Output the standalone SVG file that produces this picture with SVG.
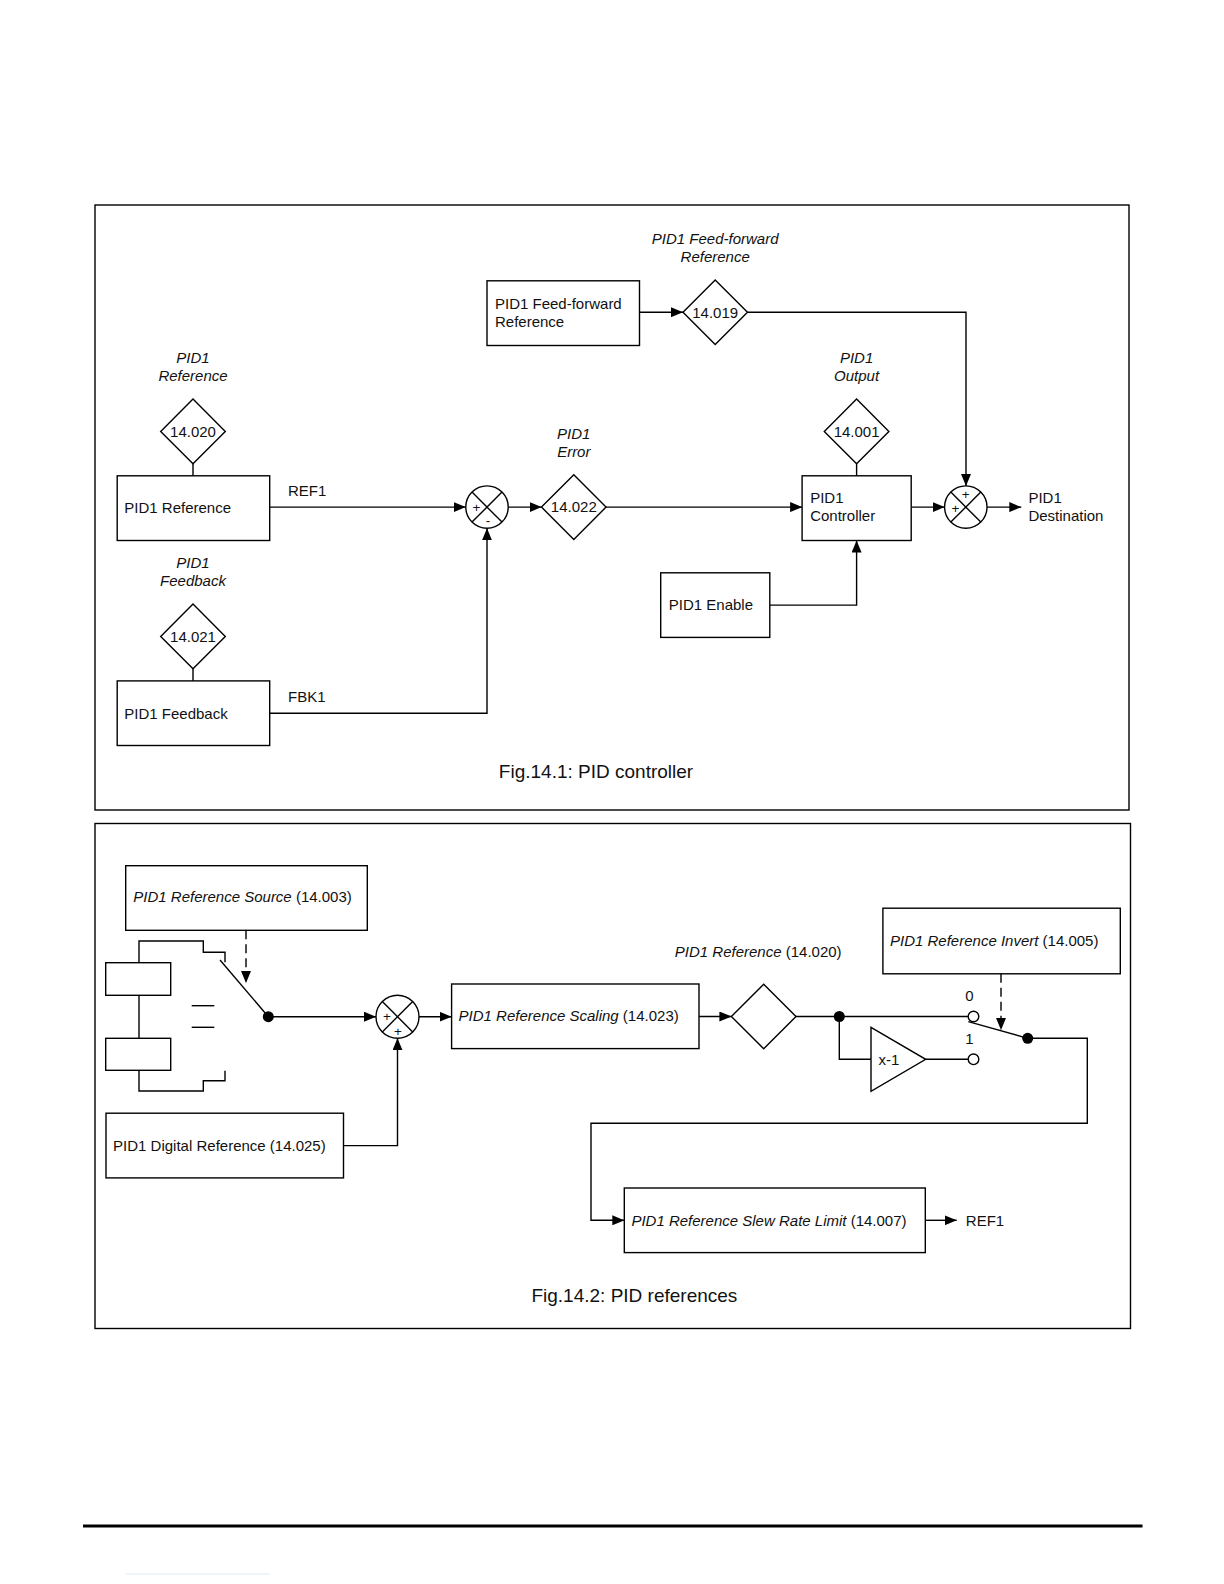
<svg xmlns="http://www.w3.org/2000/svg" width="1224" height="1584" viewBox="0 0 1224 1584">
<style>
.ln{fill:none;stroke:#000;stroke-width:1.4}
.bx{fill:#fff;stroke:#000;stroke-width:1.4}
.t{font-family:"Liberation Sans",Arial,sans-serif;font-size:15px;fill:#111}
.i{font-style:italic}
.c{text-anchor:middle}
.ttl{font-family:"Liberation Sans",Arial,sans-serif;font-size:19px;fill:#111;text-anchor:middle}
.sg{font-family:"Liberation Sans",Arial,sans-serif;font-size:13.5px;fill:#111;text-anchor:middle}
.dash{fill:none;stroke:#000;stroke-width:1.4;stroke-dasharray:9,5}
</style>
<defs>
<marker id="ar" viewBox="0 0 12 10" refX="12" refY="5" markerWidth="12" markerHeight="10" markerUnits="userSpaceOnUse" orient="auto">
<path d="M0,0 L12,5 L0,10 z" fill="#000"/>
</marker>
</defs>
<rect width="1224" height="1584" fill="#fff"/>

<!-- Frames -->
<rect x="95" y="205" width="1034" height="605" class="ln"/>
<rect x="95" y="823.5" width="1035.5" height="505" class="ln"/>

<!-- Figure 1 connectors -->
<g id="connectors1">
<line x1="639.5" y1="312.2" x2="683" y2="312.2" class="ln" marker-end="url(#ar)"/>
<polyline points="747.5,312.2 966,312.2 966,486" class="ln" marker-end="url(#ar)"/>
<line x1="193" y1="463.7" x2="193" y2="475.8" class="ln"/>
<line x1="269.7" y1="507.1" x2="465.7" y2="507.1" class="ln" marker-end="url(#ar)"/>
<line x1="193" y1="668.7" x2="193" y2="680.9" class="ln"/>
<polyline points="269.7,713.2 487,713.2 487,528.3" class="ln" marker-end="url(#ar)"/>
<line x1="508.1" y1="507.1" x2="541.5" y2="507.1" class="ln" marker-end="url(#ar)"/>
<line x1="606" y1="507.1" x2="802.1" y2="507.1" class="ln" marker-end="url(#ar)"/>
<line x1="856.6" y1="463.7" x2="856.6" y2="475.8" class="ln"/>
<polyline points="769.8,605.1 856.6,605.1 856.6,540.5" class="ln" marker-end="url(#ar)"/>
<line x1="911.2" y1="507.1" x2="944.6" y2="507.1" class="ln" marker-end="url(#ar)"/>
<line x1="987" y1="507.1" x2="1021.3" y2="507.1" class="ln" marker-end="url(#ar)"/>
</g>

<!-- Figure 1 nodes -->
<g id="ff-label">
<text x="715.2" y="243.5" class="t i c">PID1 Feed-forward</text>
<text x="715.2" y="261.6" class="t i c">Reference</text>
</g>
<g id="ff-box">
<rect x="487" y="280.8" width="152.5" height="64.7" class="bx"/>
<text x="495" y="308.5" class="t">PID1 Feed-forward</text>
<text x="495" y="326.5" class="t">Reference</text>
</g>
<g id="d14019">
<polygon points="715.2,280 747.5,312.2 715.2,344.5 683,312.2" class="bx"/>
<text x="715.2" y="317.5" class="t c">14.019</text>
</g>
<g id="ref-label">
<text x="193" y="363" class="t i c">PID1</text>
<text x="193" y="381" class="t i c">Reference</text>
</g>
<g id="d14020">
<polygon points="193,399 225.3,431.4 193,463.7 160.7,431.4" class="bx"/>
<text x="193" y="436.7" class="t c">14.020</text>
</g>
<g id="ref-box">
<rect x="117.2" y="475.8" width="152.5" height="64.7" class="bx"/>
<text x="124.3" y="513" class="t">PID1 Reference</text>
</g>
<text x="288" y="496" class="t">REF1</text>
<g id="fb-label">
<text x="193" y="568" class="t i c">PID1</text>
<text x="193" y="586" class="t i c">Feedback</text>
</g>
<g id="d14021">
<polygon points="193,604 225.3,636.4 193,668.7 160.7,636.4" class="bx"/>
<text x="193" y="641.7" class="t c">14.021</text>
</g>
<g id="fb-box">
<rect x="117.2" y="680.9" width="152.5" height="64.6" class="bx"/>
<text x="124.3" y="718.5" class="t">PID1 Feedback</text>
</g>
<text x="288" y="702" class="t">FBK1</text>
<g id="sum1">
<circle cx="487" cy="507.1" r="21.2" class="bx"/>
<line x1="472" y1="492.1" x2="502" y2="522.1" class="ln"/>
<line x1="502" y1="492.1" x2="472" y2="522.1" class="ln"/>
<text x="476.5" y="512" class="sg">+</text>
<text x="488" y="525" class="sg">-</text>
</g>
<g id="err-label">
<text x="573.8" y="438.5" class="t i c">PID1</text>
<text x="573.8" y="456.6" class="t i c">Error</text>
</g>
<g id="d14022">
<polygon points="573.8,474.8 606,507.1 573.8,539.4 541.5,507.1" class="bx"/>
<text x="573.8" y="512.4" class="t c">14.022</text>
</g>
<g id="out-label">
<text x="856.6" y="363" class="t i c">PID1</text>
<text x="856.6" y="381" class="t i c">Output</text>
</g>
<g id="d14001">
<polygon points="856.6,399 888.9,431.4 856.6,463.7 824.3,431.4" class="bx"/>
<text x="856.6" y="436.7" class="t c">14.001</text>
</g>
<g id="controller">
<rect x="802.1" y="475.8" width="109.1" height="64.7" class="bx"/>
<text x="810.2" y="503" class="t">PID1</text>
<text x="810.2" y="521.3" class="t">Controller</text>
</g>
<g id="enable">
<rect x="660.7" y="572.8" width="109.1" height="64.6" class="bx"/>
<text x="668.8" y="610.3" class="t">PID1 Enable</text>
</g>
<g id="sum2">
<circle cx="965.8" cy="507.1" r="21.2" class="bx"/>
<line x1="950.8" y1="492.1" x2="980.8" y2="522.1" class="ln"/>
<line x1="980.8" y1="492.1" x2="950.8" y2="522.1" class="ln"/>
<text x="965.8" y="499" class="sg">+</text>
<text x="955.5" y="513" class="sg">+</text>
</g>
<g id="dest">
<text x="1028.4" y="503" class="t">PID1</text>
<text x="1028.4" y="521.3" class="t">Destination</text>
</g>
<text x="596" y="777.5" class="ttl">Fig.14.1: PID controller</text>

<!-- Figure 2 connectors -->
<g id="connectors2">
<line x1="246" y1="930.3" x2="246" y2="983" class="dash" marker-end="url(#ar)"/>
<polyline points="139,962.7 139,941 203.3,941 203.3,952.3 225,952.3 225,962.3" class="ln"/>
<line x1="139" y1="995.3" x2="139" y2="1038.3" class="ln"/>
<polyline points="139,1070.3 139,1091 203.3,1091 203.3,1080.7 225,1080.7 225,1070.7" class="ln"/>
<line x1="191.7" y1="1005.7" x2="214.3" y2="1005.7" class="ln"/>
<line x1="191.7" y1="1027.3" x2="214.3" y2="1027.3" class="ln"/>
<line x1="220" y1="960" x2="268.3" y2="1016.7" class="ln"/>
<circle cx="268.3" cy="1016.7" r="5.5" fill="#000"/>
<line x1="268.3" y1="1016.7" x2="376" y2="1016.7" class="ln" marker-end="url(#ar)"/>
<polyline points="343.5,1145.6 397.5,1145.6 397.5,1038.2" class="ln" marker-end="url(#ar)"/>
<line x1="419" y1="1016.7" x2="451.6" y2="1016.7" class="ln" marker-end="url(#ar)"/>
<line x1="699" y1="1016.5" x2="731.4" y2="1016.5" class="ln" marker-end="url(#ar)"/>
<line x1="796" y1="1016.5" x2="968" y2="1016.5" class="ln"/>
<circle cx="839.3" cy="1016.5" r="5.5" fill="#000"/>
<polyline points="839.3,1016.5 839.3,1059.3 871,1059.3" class="ln"/>
<line x1="925.7" y1="1059.3" x2="968" y2="1059.3" class="ln"/>
<circle cx="973.5" cy="1016.5" r="5.3" fill="#fff" stroke="#000" stroke-width="1.4"/>
<circle cx="973.5" cy="1059.3" r="5.3" fill="#fff" stroke="#000" stroke-width="1.4"/>
<line x1="968.3" y1="1021.7" x2="1027.7" y2="1038.3" class="ln"/>
<circle cx="1027.7" cy="1038.3" r="5.5" fill="#000"/>
<line x1="1001" y1="973.8" x2="1001" y2="1030" class="dash" marker-end="url(#ar)"/>
<polyline points="1027.7,1038.3 1087.3,1038.3 1087.3,1123.3 591,1123.3 591,1220.3 624.3,1220.3" class="ln" marker-end="url(#ar)"/>
<line x1="925.3" y1="1220.3" x2="956.7" y2="1220.3" class="ln" marker-end="url(#ar)"/>
</g>

<!-- Figure 2 nodes -->
<g id="src-box">
<rect x="125.7" y="865.7" width="241.6" height="64.6" class="bx"/>
<text x="133.3" y="902" class="t"><tspan class="i">PID1 Reference Source</tspan> (14.003)</text>
</g>
<g id="sel-in1"><rect x="105.7" y="962.7" width="65" height="32.6" class="bx"/></g>
<g id="sel-in2"><rect x="105.7" y="1038.3" width="65" height="32" class="bx"/></g>
<g id="digital-box">
<rect x="106" y="1113.2" width="237.5" height="64.7" class="bx"/>
<text x="113.1" y="1151" class="t">PID1 Digital Reference (14.025)</text>
</g>
<g id="sum3">
<circle cx="397.5" cy="1016.7" r="21.5" class="bx"/>
<line x1="382.3" y1="1001.5" x2="412.7" y2="1031.9" class="ln"/>
<line x1="412.7" y1="1001.5" x2="382.3" y2="1031.9" class="ln"/>
<text x="387" y="1021" class="sg">+</text>
<text x="398" y="1036" class="sg">+</text>
</g>
<g id="scaling-box">
<rect x="451.6" y="984" width="247.4" height="64.6" class="bx"/>
<text x="458.6" y="1020.5" class="t"><tspan class="i">PID1 Reference Scaling</tspan> (14.023)</text>
</g>
<g id="d-ref">
<text x="674.8" y="956.6" class="t"><tspan class="i">PID1 Reference</tspan> (14.020)</text>
<polygon points="763.7,984.2 796,1016.5 763.7,1048.8 731.4,1016.5" class="bx"/>
</g>
<g id="invert-box">
<rect x="882.9" y="908.2" width="237.4" height="65.6" class="bx"/>
<text x="890" y="945.7" class="t"><tspan class="i">PID1 Reference Invert</tspan> (14.005)</text>
</g>
<g id="neg">
<polygon points="871,1027.3 925.7,1059.3 871,1091.3" class="bx"/>
<text x="889" y="1064.5" class="t c">x-1</text>
</g>
<text x="969.5" y="1001" class="t c">0</text>
<text x="969.5" y="1044" class="t c">1</text>
<g id="slew-box">
<rect x="624.3" y="1188" width="301" height="64.6" class="bx"/>
<text x="631.4" y="1225.5" class="t"><tspan class="i">PID1 Reference Slew Rate Limit</tspan> (14.007)</text>
</g>
<text x="965.8" y="1225.5" class="t">REF1</text>
<text x="634.4" y="1302" class="ttl">Fig.14.2: PID references</text>

<!-- Page footer -->
<line x1="83" y1="1526" x2="1142.5" y2="1526" stroke="#000" stroke-width="3"/>
<line x1="126" y1="1574" x2="270" y2="1574" stroke="#dfe8f5" stroke-width="1"/>
</svg>
